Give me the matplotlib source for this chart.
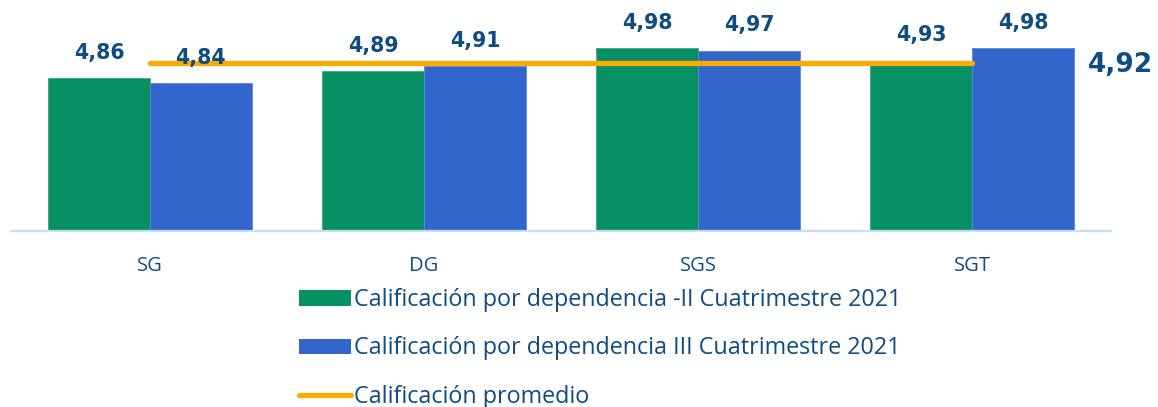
import matplotlib
matplotlib.use("Agg")
import matplotlib.pyplot as plt
import matplotlib.transforms as mtransforms
import numpy as np
from matplotlib.patches import Patch
from matplotlib.lines import Line2D

categories = ["SG", "DG", "SGS", "SGT"]
serie_ii = [4.86, 4.89, 4.98, 4.93]
serie_iii = [4.84, 4.91, 4.97, 4.98]
promedio = [4.92, 4.92, 4.92, 4.92]
labels = ["Calificación por dependencia -II Cuatrimestre 2021",
          "Calificación por dependencia III Cuatrimestre 2021",
          "Calificación promedio"]

GREEN = "#078F65"
BLUE = "#3366CC"
ORANGE = "#FFAA00"
NAVY = "#0F4C81"
AXIS = "#C5DFF4"

W, H = 1158, 407
fig = plt.figure(figsize=(W / 100, H / 100), dpi=100)
left, right = 11 / W, 1111 / W
bottom, top = 1 - 231 / H, 1 - 43 / H
ax = fig.add_axes([left, bottom, right - left, top - bottom])

x = np.arange(len(categories))
bw = 0.372
ax.bar(x - bw / 2, serie_ii, width=bw, color=GREEN, edgecolor="#3FA882",
       linewidth=0.6, zorder=2)
ax.bar(x + bw / 2, serie_iii, width=bw, color=BLUE, edgecolor="#5A86DA",
       linewidth=0.6, zorder=2)
ax.plot(x, promedio, color=ORANGE, lw=3.8, solid_capstyle="round", zorder=3)

for xs, vals in ((x - bw / 2, serie_ii), (x + bw / 2, serie_iii)):
    for xi, v in zip(xs, vals):
        ax.annotate(f"{v:.2f}".replace(".", ","), (xi, v), xytext=(0, 18),
                    textcoords="offset points", ha="center", va="center",
                    fontsize=14.8, fontweight="bold", color=NAVY,
                    family="DejaVu Sans", zorder=4)

# average value label at right
trans = mtransforms.blended_transform_factory(fig.transFigure, ax.transData)
ax.text(1088 / W, promedio[-1] - 0.008, f"{promedio[-1]:.2f}".replace(".", ","),
        transform=trans, ha="left", va="center", fontsize=19,
        fontweight="bold", color=NAVY, family="DejaVu Sans", clip_on=False)

ax.set_xlim(-0.507, 3.507)
ax.set_ylim(4.248, 5.0)
for s in ["top", "right", "left"]:
    ax.spines[s].set_visible(False)
ax.spines["bottom"].set_color(AXIS)
ax.spines["bottom"].set_linewidth(1.6)
ax.set_yticks([])
ax.set_xticks(x)
ax.set_xticklabels(categories, fontsize=14.5, color=NAVY, family="Open Sans")
ax.tick_params(axis="x", length=0, pad=18)

fs = 16.8
handles = [Patch(facecolor=GREEN, edgecolor="none"),
           Patch(facecolor=BLUE, edgecolor="none"),
           Line2D([0], [0], color=ORANGE, lw=3.8, solid_capstyle="round")]
leg = fig.legend(handles, labels, loc="center left",
                 bbox_to_anchor=(299 / W, 1 - 348.5 / H),
                 frameon=False, borderpad=0, borderaxespad=0,
                 prop={"family": "Open Sans", "size": fs},
                 handlelength=2.23, handleheight=0.64, handletextpad=0.13,
                 labelspacing=1.04)
for t in leg.get_texts():
    t.set_color(NAVY)

fig.savefig("out.png", dpi=100)
